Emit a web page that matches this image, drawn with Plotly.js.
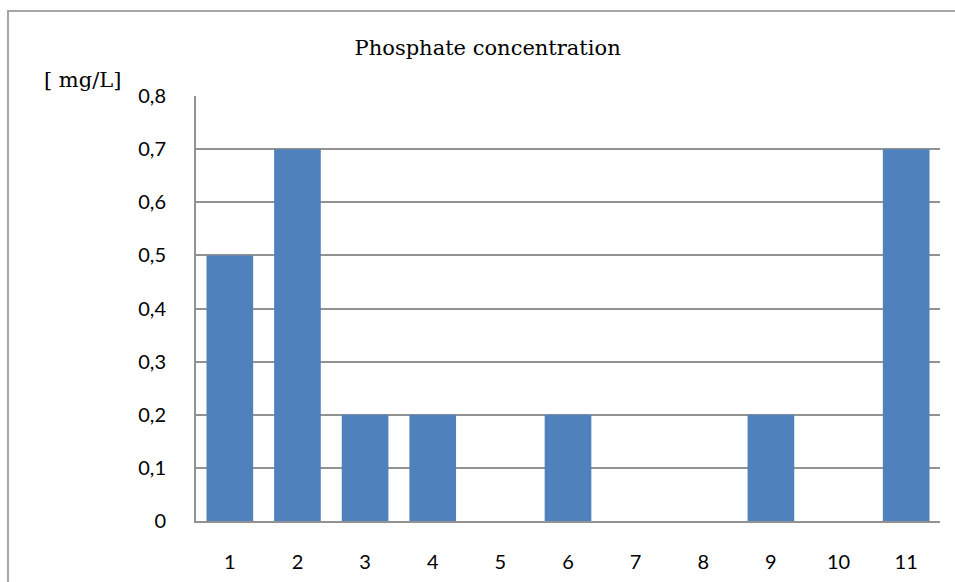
<!DOCTYPE html>
<html><head><meta charset="utf-8">
<script src="https://cdn.plot.ly/plotly-3.0.1.min.js"></script>
<style>html,body{margin:0;padding:0;background:#fff;}#chart{width:955px;height:582px;}</style>
</head><body><div id="chart"></div>
<script>
const categories = [1,2,3,4,5,6,7,8,9,10,11];
const phosphate = [0.5,0.7,0.2,0.2,0,0.2,0,0,0.2,0,0.7];
const yTicks = [0,0.1,0.2,0.3,0.4,0.5,0.6,0.7,0.8];

const trace = {
  type:'bar', x:categories, y:phosphate,
  marker:{color:'#4F81BD'}, hoverinfo:'x+y'
};
const layout = {
  width:955, height:582,
  margin:{l:196,r:15,t:96,b:61},
  paper_bgcolor:'#fff', plot_bgcolor:'#fff',
  separators:', ',
  bargap:0.31,
  showlegend:false,
  title:{text:'Phosphate concentration', x:0.392, xref:'paper', xanchor:'center', y:0.918, yanchor:'middle',
    font:{family:'DejaVu Serif', size:21, color:'#000'}},
  xaxis:{range:[0.5,11.5], tickvals:categories, ticktext:categories.map(String),
    showgrid:false, zeroline:false, showline:true, linecolor:'#929292', linewidth:2,
    ticks:'outside', ticklen:22, tickcolor:'rgba(0,0,0,0)',
    tickfont:{family:'Lato', size:20, color:'#000'}, fixedrange:true},
  yaxis:{range:[0,0.8], tickvals:yTicks, showgrid:true, gridcolor:'#929292', gridwidth:2,
    zeroline:false, showline:true, linecolor:'#929292', linewidth:2,
    ticks:'outside', ticklen:24, tickcolor:'rgba(0,0,0,0)',
    tickfont:{family:'Lato', size:20, color:'#000'}, fixedrange:true},
  annotations:[{text:'[ mg/L]', xref:'paper', yref:'paper', x:-0.152, y:1.038,
    xanchor:'center', yanchor:'middle', showarrow:false,
    font:{family:'DejaVu Serif', size:21, color:'#000'}}],
  shapes:[{type:'rect', xref:'paper', yref:'paper', x0:-0.2527, x1:1.5, y0:-0.5, y1:1.2,
    line:{color:'#a6a6a6', width:2}, fillcolor:'rgba(0,0,0,0)', layer:'below'}]
};
Plotly.newPlot('chart',[trace],layout,{displayModeBar:false,staticPlot:true});
</script></body></html>
